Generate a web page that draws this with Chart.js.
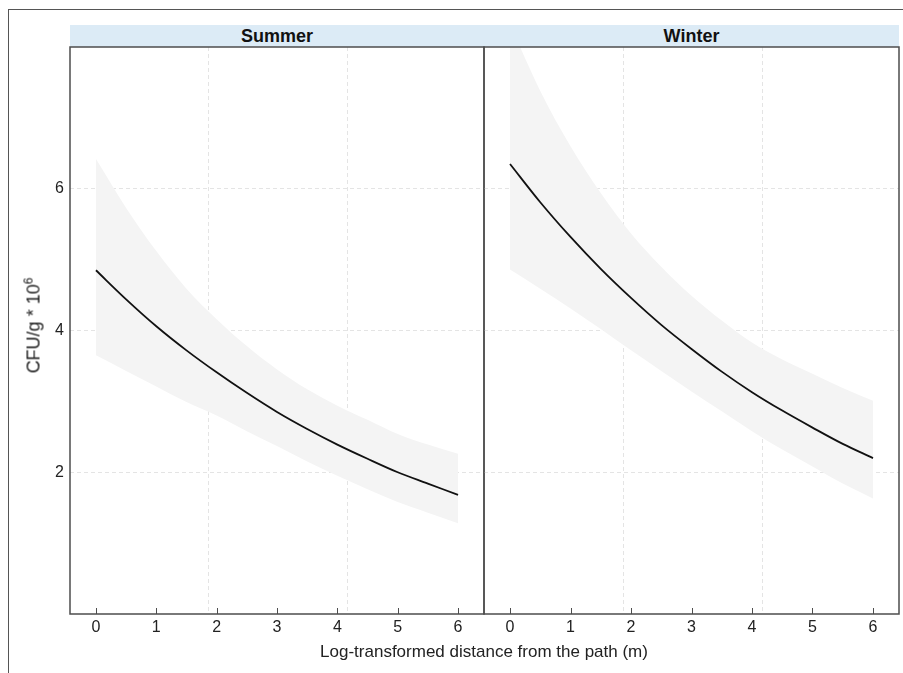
<!DOCTYPE html>
<html>
<head>
<meta charset="utf-8">
<script src="https://cdn.jsdelivr.net/npm/chart.js@4.4.1/dist/chart.umd.min.js"></script>
<style>
  html, body { margin: 0; padding: 0; background: #fff; }
  body { width: 903px; height: 673px; position: relative; overflow: hidden; font-family: "Liberation Sans", Arial, sans-serif; color: #222; }
  .frame { position: absolute; left: 8px; top: 9px; right: -5px; bottom: -5px; border-left: 1px solid #555; border-top: 1px solid #555; }
  .strip { position: absolute; top: 25px; height: 22px; background: #dcebf6; font-weight: bold; font-size: 18px; line-height: 23px; text-align: center; color: #111; }
  canvas { position: absolute; }
  #xTitle { position: absolute; left: 184px; width: 600px; top: 642px; text-align: center; font-size: 17px; color: #222; }
  #yTitle { position: absolute; left: -66px; top: 315px; width: 200px; text-align: center; font-size: 18px; transform: rotate(-90deg); color: #222; }
  #yTitle sup { font-size: 12px; vertical-align: 7px; line-height: 0; }
</style>
</head>
<body>
<div class="frame"></div>
<div class="strip" style="left:70px;width:414px;">Summer</div>
<div class="strip" style="left:484px;width:415px;">Winter</div>
<canvas id="summer-chart" width="486" height="628" style="left:0;top:45px;"></canvas>
<canvas id="winter-chart" width="421" height="628" style="left:482px;top:45px;"></canvas>
<div id="xTitle">Log-transformed distance from the path (m)</div>
<div id="yTitle">CFU/g * 10<sup>6</sup></div>
<script>
const distance = [0, 0.5, 1, 1.5, 2, 2.5, 3, 3.5, 4, 4.5, 5, 5.5, 6];

const summerFit   = [4.85, 4.44, 4.06, 3.72, 3.41, 3.12, 2.85, 2.61, 2.39, 2.19, 2.00, 1.84, 1.68];
const summerLower = [3.65, 3.43, 3.21, 2.99, 2.80, 2.58, 2.37, 2.15, 1.95, 1.76, 1.58, 1.43, 1.28];
const summerUpper = [6.42, 5.73, 5.12, 4.59, 4.16, 3.78, 3.45, 3.17, 2.94, 2.74, 2.54, 2.39, 2.26];

const winterFit   = [6.35, 5.81, 5.32, 4.87, 4.46, 4.08, 3.74, 3.42, 3.13, 2.87, 2.63, 2.40, 2.20];
const winterLower = [4.86, 4.59, 4.31, 4.02, 3.72, 3.43, 3.14, 2.86, 2.58, 2.32, 2.08, 1.84, 1.63];
const winterUpper = [8.32, 7.38, 6.60, 5.94, 5.37, 4.90, 4.49, 4.14, 3.83, 3.59, 3.39, 3.19, 3.01];

const xTicks = [0, 1, 2, 3, 4, 5, 6];
const yTicks = [2, 4, 6];
const xGridLines = [1.87, 4.17];

const X_MIN = -0.43, X_MAX = 6.43;
const Y_MIN = 0, Y_MAX = 8;

const LINE_COLOR = "#111111";
const BAND_COLOR = "#f4f4f4";
const GRID_COLOR = "#e4e4e4";
const BOX_COLOR = "#4d4d4d";
const FONT = "'Liberation Sans', Arial, sans-serif";

const toPoints = ys => distance.map((x, i) => ({x: x, y: ys[i]}));

// no extra label padding, so the plot area sits exactly where we want it
const noPad = s => { s.paddingTop = 0; s.paddingBottom = 0; s.paddingLeft = 0; s.paddingRight = 0; };

// panel border + inward x ticks
const panelPlugin = {
    id: "panel",
    afterDraw(chart) {
        const {ctx, chartArea} = chart;
        const xScale = chart.scales.x;
        ctx.save();
        ctx.strokeStyle = BOX_COLOR;
        ctx.lineWidth = 1;
        xScale.ticks.forEach(t => {
            const px = Math.round(xScale.getPixelForValue(t.value)) + 0.5;
            ctx.beginPath();
            ctx.moveTo(px, chartArea.bottom);
            ctx.lineTo(px, chartArea.bottom - 6);
            ctx.stroke();
        });
        ctx.lineWidth = 1.5;
        ctx.strokeRect(chartArea.left, chartArea.top, chartArea.right - chartArea.left, chartArea.bottom - chartArea.top);
        ctx.restore();
    }
};

function buildPanel(canvasId, fit, lower, upper, showY, padRight) {
    return new Chart(document.getElementById(canvasId), {
        type: "line",
        data: {
            datasets: [
                {
                    data: toPoints(upper),
                    order: 2,
                    borderWidth: 0,
                    pointRadius: 0,
                    backgroundColor: BAND_COLOR,
                    fill: "+1",
                    cubicInterpolationMode: "monotone"
                },
                {
                    data: toPoints(lower),
                    order: 3,
                    borderWidth: 0,
                    pointRadius: 0,
                    fill: false,
                    cubicInterpolationMode: "monotone"
                },
                {
                    data: toPoints(fit),
                    order: 1,
                    borderColor: LINE_COLOR,
                    borderWidth: 1.8,
                    pointRadius: 0,
                    fill: false,
                    cubicInterpolationMode: "monotone"
                }
            ]
        },
        options: {
            responsive: false,
            animation: false,
            events: [],
            layout: {padding: {top: 2, right: padRight, left: 0, bottom: 0}},
            plugins: {legend: {display: false}, tooltip: {enabled: false}},
            scales: {
                x: {
                    type: "linear",
                    min: X_MIN,
                    max: X_MAX,
                    afterBuildTicks: s => { s.ticks = xTicks.map(v => ({value: v})); },
                    afterFit: s => { s.height = 59; noPad(s); },
                    grid: {display: false, drawTicks: false},
                    border: {display: false},
                    ticks: {padding: 4, color: "#222", font: {family: FONT, size: 16}}
                },
                xg: {
                    type: "linear",
                    position: "bottom",
                    min: X_MIN,
                    max: X_MAX,
                    afterBuildTicks: s => { s.ticks = xGridLines.map(v => ({value: v})); },
                    afterFit: s => { s.height = 0; noPad(s); },
                    grid: {color: GRID_COLOR, lineWidth: 1, drawTicks: false},
                    border: {display: false, dash: [4, 3]},
                    ticks: {display: false}
                },
                y: {
                    type: "linear",
                    min: Y_MIN,
                    max: Y_MAX,
                    afterBuildTicks: s => { s.ticks = yTicks.map(v => ({value: v})); },
                    afterFit: s => { s.width = showY ? 70 : 2; noPad(s); },
                    grid: {color: GRID_COLOR, lineWidth: 1, drawTicks: false},
                    border: {display: false, dash: [4, 3]},
                    ticks: {display: showY, padding: 6, color: "#222", font: {family: FONT, size: 16}}
                }
            }
        },
        plugins: [panelPlugin]
    });
}

buildPanel("summer-chart", summerFit, summerLower, summerUpper, true, 2);
buildPanel("winter-chart", winterFit, winterLower, winterUpper, false, 4);
</script>
</body>
</html>
